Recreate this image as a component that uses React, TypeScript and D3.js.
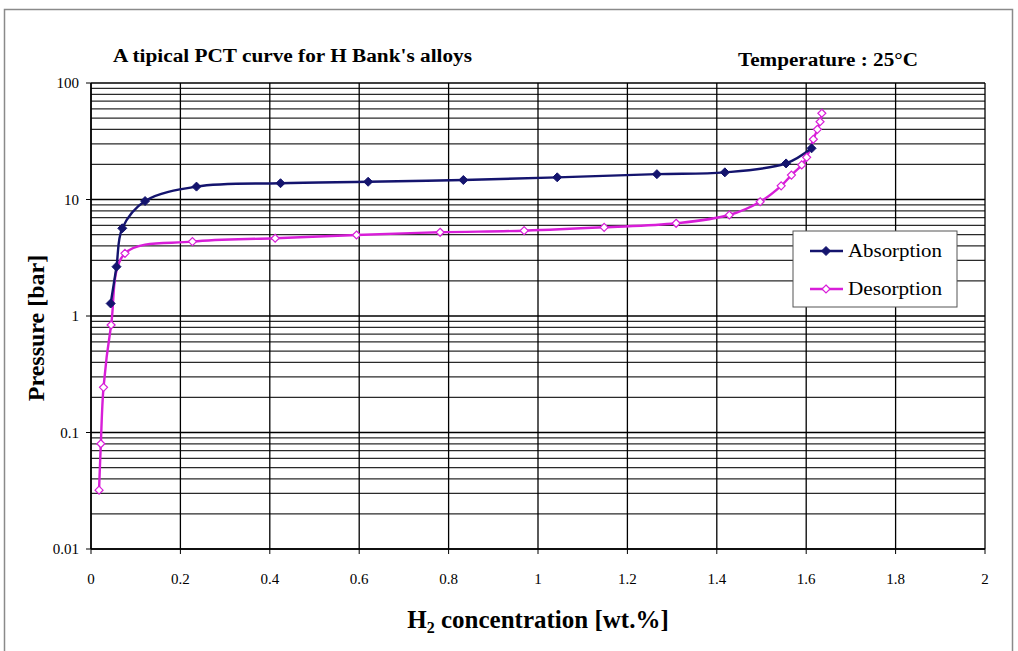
import React from 'react';
import * as d3 from 'd3';

// H2 concentration [wt.%] vs pressure [bar]
const absX = [0.044, 0.057, 0.070, 0.121, 0.236, 0.424, 0.620, 0.833, 1.043, 1.266, 1.418, 1.555, 1.612];
const absP = [1.28, 2.65, 5.66, 9.7, 12.9, 13.8, 14.2, 14.7, 15.5, 16.5, 17.1, 20.4, 27.5];

const desX = [0.018, 0.022, 0.028, 0.045, 0.076, 0.227, 0.412, 0.594, 0.781, 0.969, 1.148, 1.309, 1.428, 1.497, 1.544, 1.567, 1.590, 1.601, 1.616, 1.625, 1.631, 1.635];
const desP = [0.032, 0.08, 0.244, 0.837, 3.45, 4.35, 4.65, 4.96, 5.23, 5.4, 5.77, 6.25, 7.36, 9.57, 13.1, 16.2, 19.8, 23, 32.9, 40, 46.5, 55];

const xTicks = [0, 0.2, 0.4, 0.6, 0.8, 1, 1.2, 1.4, 1.6, 1.8, 2];
const yTicks = [0.01, 0.1, 1, 10, 100];
const yTickLabels = ['0.01', '0.1', '1', '10', '100'];

const seriesNames = ['Absorption', 'Desorption'];
const absColor = '#14146e';
const desColor = '#d81ed8';

const font = '"Liberation Serif", "Times New Roman", serif';

export default function App() {
  const W = 1018, H = 651;
  const m = { left: 91, right: 985, top: 83, bottom: 549 };

  const x = d3.scaleLinear().domain([0, 2]).range([m.left, m.right]);
  const y = d3.scaleLog().domain([0.01, 100]).range([m.bottom, m.top]);

  const minor: number[] = [];
  for (let e = -2; e < 2; e++) {
    for (let k = 2; k <= 9; k++) minor.push(k * Math.pow(10, e));
  }

  const line = d3.line<[number, number]>()
    .x(d => x(d[0]))
    .y(d => y(d[1]))
    .curve(d3.curveCatmullRom.alpha(0.5));

  const absPts: [number, number][] = absX.map((v, i) => [v, absP[i]]);
  const desPts: [number, number][] = desX.map((v, i) => [v, desP[i]]);

  const diamond = (cx: number, cy: number, r: number) =>
    `M${cx},${cy - r}L${cx + r},${cy}L${cx},${cy + r}L${cx - r},${cy}Z`;

  const lgX = 793, lgY = 231;

  return (
    <svg width={W} height={H} style={{ position: 'absolute', left: 0, top: 0, background: '#fff' }}
      fontFamily={font}>
      <rect x={4.5} y={9.5} width={1008} height={660} fill="#fff" stroke="#8a8a8a" strokeWidth={1.5} />

      <text x={113} y={62} fontSize={18} fontWeight="bold" textLength={359} lengthAdjust="spacingAndGlyphs">
        A tipical PCT curve for H Bank's alloys
      </text>
      <text x={738} y={66} fontSize={18} fontWeight="bold" textLength={180} lengthAdjust="spacingAndGlyphs">
        Temperature : 25°C
      </text>

      {/* horizontal grid */}
      {minor.map((v, i) => (
        <line key={'mn' + i} x1={m.left} x2={m.right} y1={y(v)} y2={y(v)} stroke="#2a2a2a" strokeWidth={1.2} />
      ))}
      {yTicks.map((v, i) => (
        <line key={'mj' + i} x1={m.left} x2={m.right} y1={y(v)} y2={y(v)} stroke="#000" strokeWidth={1.5} />
      ))}
      {/* vertical grid */}
      {xTicks.map((v, i) => (
        <line key={'vx' + i} x1={x(v)} x2={x(v)} y1={m.top} y2={m.bottom} stroke="#000" strokeWidth={1.3} />
      ))}

      {/* axes */}
      <line x1={m.left} x2={m.left} y1={m.top} y2={m.bottom} stroke="#000" strokeWidth={1.5} />
      <line x1={m.left} x2={m.right} y1={m.bottom} y2={m.bottom} stroke="#000" strokeWidth={1.5} />
      {yTicks.map((v, i) => (
        <g key={'yt' + i}>
          <line x1={m.left - 5} x2={m.left} y1={y(v)} y2={y(v)} stroke="#000" />
          <text x={m.left - 12} y={y(v) + 5} fontSize={15} textAnchor="end">{yTickLabels[i]}</text>
        </g>
      ))}
      {xTicks.map((v, i) => (
        <g key={'xt' + i}>
          <line x1={x(v)} x2={x(v)} y1={m.bottom} y2={m.bottom + 5} stroke="#000" />
          <text x={x(v)} y={m.bottom + 35} fontSize={15} textAnchor="middle">{String(v)}</text>
        </g>
      ))}

      <text transform={`translate(44,${(m.top + m.bottom) / 2 + 12}) rotate(-90)`} fontSize={24} fontWeight="bold"
        textAnchor="middle">Pressure [bar]</text>
      <text x={538} y={628} fontSize={25} fontWeight="bold" textAnchor="middle">
        H<tspan fontSize={16} dy={5}>2</tspan><tspan dy={-5}> concentration [wt.%]</tspan>
      </text>

      {/* series */}
      <path d={line(desPts) || ''} fill="none" stroke={desColor} strokeWidth={2.4} />
      <path d={line(absPts) || ''} fill="none" stroke={absColor} strokeWidth={2.4} />
      {absPts.map((p, i) => (
        <path key={'ap' + i} d={diamond(x(p[0]), y(p[1]), 4.5)} fill={absColor} stroke={absColor} />
      ))}
      {desPts.map((p, i) => (
        <path key={'dp' + i} d={diamond(x(p[0]), y(p[1]), 4)} fill="#fff" stroke={desColor} strokeWidth={1.2} />
      ))}

      {/* legend */}
      <rect x={lgX} y={lgY} width={164} height={76} fill="#fff" stroke="#555" strokeWidth={1} />
      {seriesNames.map((name, i) => {
        const cy = lgY + 20 + i * 38;
        const c = i === 0 ? absColor : desColor;
        return (
          <g key={name}>
            <line x1={lgX + 17} x2={lgX + 50} y1={cy} y2={cy} stroke={c} strokeWidth={2.4} />
            {i === 0
              ? <path d={diamond(lgX + 33, cy, 4.5)} fill={c} stroke={c} />
              : <path d={diamond(lgX + 33, cy, 4)} fill="#fff" stroke={c} strokeWidth={1.2} />}
            <text x={lgX + 55} y={cy + 6} fontSize={19} textLength={94} lengthAdjust="spacingAndGlyphs">{name}</text>
          </g>
        );
      })}
    </svg>
  );
}
